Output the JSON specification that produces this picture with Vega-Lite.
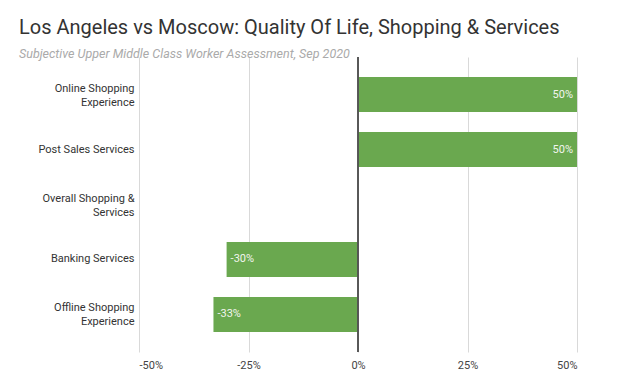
{
  "$schema": "https://vega.github.io/schema/vega-lite/v6.json",
  "width": 438,
  "height": 295,
  "autosize": {"type": "none"},
  "padding": {"left": 139, "top": 57, "right": 43, "bottom": 31},
  "background": "white",
  "title": {
    "text": "Los Angeles vs Moscow: Quality Of Life, Shopping & Services",
    "subtitle": "Subjective Upper Middle Class Worker Assessment, Sep 2020",
    "anchor": "start",
    "frame": "group",
    "dx": -120,
    "offset": -4,
    "font": "Roboto",
    "fontSize": 20,
    "fontWeight": "normal",
    "color": "#333333",
    "subtitleFont": "Roboto",
    "subtitleFontSize": 12.5,
    "subtitleFontStyle": "italic",
    "subtitleColor": "#aaaaaa",
    "subtitlePadding": 10
  },
  "config": {
    "locale": {"number": {"decimal": ".", "thousands": ",", "grouping": [3], "currency": ["$", ""], "minus": "-"}},
    "view": {"stroke": null},
    "font": "Roboto"
  },
  "data": {
    "values": [
      {"category": "Online Shopping Experience", "value": 0.5},
      {"category": "Post Sales Services", "value": 0.5},
      {"category": "Overall Shopping & Services", "value": 0},
      {"category": "Banking Services", "value": -0.3},
      {"category": "Offline Shopping Experience", "value": -0.33}
    ]
  },
  "encoding": {
    "y": {
      "field": "category",
      "type": "nominal",
      "sort": null,
      "scale": {"paddingInner": 0.364, "paddingOuter": 0.364},
      "axis": {
        "title": null,
        "ticks": false,
        "domain": false,
        "labelPadding": 5,
        "labelFontSize": 11,
        "labelColor": "#333333",
        "labelLineHeight": 14,
        "labelLimit": 200,
        "labelOffset": {"condition": {"test": "datum.value != 'Post Sales Services' && datum.value != 'Banking Services'", "value": -6}, "value": 0},
        "labelExpr": "datum.value == 'Online Shopping Experience' ? ['Online Shopping', 'Experience'] : datum.value == 'Overall Shopping & Services' ? ['Overall Shopping &', 'Services'] : datum.value == 'Offline Shopping Experience' ? ['Offline Shopping', 'Experience'] : datum.value"
      }
    }
  },
  "layer": [
    {
      "mark": {"type": "bar", "color": "#6aa84f"},
      "encoding": {
        "x": {
          "field": "value",
          "type": "quantitative",
          "scale": {"domain": [-0.5, 0.5], "nice": false},
          "axis": {
            "title": null,
            "values": [-0.5, -0.25, 0, 0.25, 0.5],
            "format": ".0%",
            "domain": false,
            "grid": true,
            "gridColor": "#d9d9d9",
            "ticks": false,
            "labelFontSize": 11,
            "labelColor": "#444444",
            "labelPadding": 7
          }
        }
      }
    },
    {
      "mark": {"type": "rule", "color": "#555555", "strokeWidth": 1},
      "encoding": {"x": {"datum": 0, "type": "quantitative"}, "y": {"value": 0}, "y2": {"value": 295}}
    },
    {
      "transform": [{"filter": "datum.value > 0"}],
      "mark": {"type": "text", "align": "right", "dx": -4, "fontSize": 11, "color": "#f2f5ee"},
      "encoding": {
        "x": {"field": "value", "type": "quantitative"},
        "text": {"field": "value", "type": "quantitative", "format": ".0%"}
      }
    },
    {
      "transform": [{"filter": "datum.value < 0"}],
      "mark": {"type": "text", "align": "left", "dx": 4, "fontSize": 11, "color": "#f2f5ee"},
      "encoding": {
        "x": {"field": "value", "type": "quantitative"},
        "text": {"field": "value", "type": "quantitative", "format": ".0%"}
      }
    }
  ]
}
